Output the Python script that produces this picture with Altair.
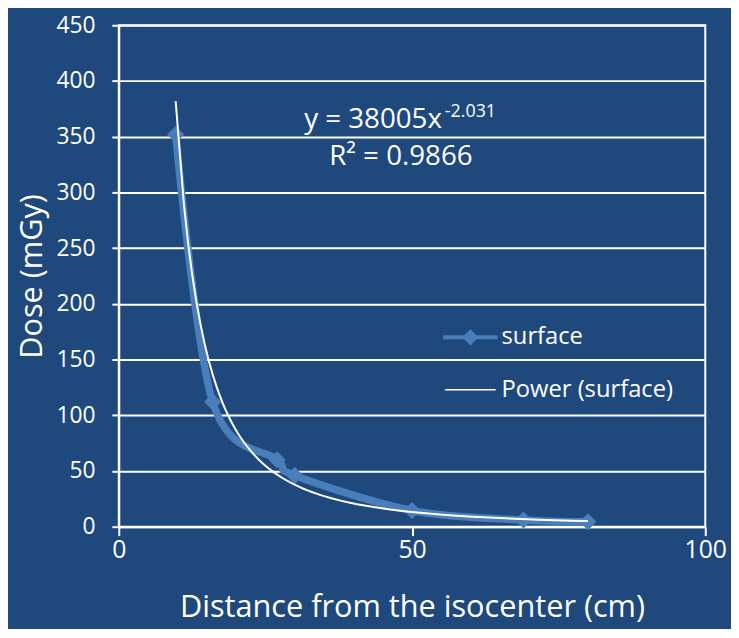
import altair as alt
import pandas as pd

# ---- data ----
distance = [9.7, 16.0, 27.0, 30.0, 50.0, 69.0, 80.0]
dose = [352, 112, 60, 46, 14.5, 6.0, 4.4]
series_labels = ["surface", "Power (surface)"]
x_ticks = [0, 50, 100]
y_ticks = [0, 50, 100, 150, 200, 250, 300, 350, 400, 450]

eq_main = ["y = 38005x"]
eq_main_pos = [(55.1, 357.4)]
eq_exp = ["-2.031"]
eq_exp_pos = [(55.6, 367.6)]
r2_text = ["R² = 0.9866"]
r2_pos = [(48.1, 325.0)]

BG = "#1F497D"
BLUE = "#4A7EBB"
WHITE = "#FFFFFF"
FONT = "Open Sans"

df = pd.DataFrame({"distance": distance, "dose": dose})
legend_df = pd.DataFrame({"series": series_labels})

xs = alt.Scale(domain=[0, 100], nice=False, zero=True)
ys = alt.Scale(domain=[0, 450], nice=False)

x_enc = alt.X(
    "distance:Q",
    scale=xs,
    axis=alt.Axis(
        values=x_ticks,
        title="Distance from the isocenter (cm)",
        grid=False,
        tickSize=9,
        labelPadding=2,
        labelFlush=False,
        labelFontSize=25,
        titleFontSize=31,
        titlePadding=31,
        titleFontWeight="normal",
    ),
)
y_enc = alt.Y(
    "dose:Q",
    scale=ys,
    axis=alt.Axis(
        values=y_ticks,
        title="Dose (mGy)",
        grid=True,
        tickSize=7,
        labelPadding=17,
        labelFlush=False,
        labelFontSize=23,
        titleFontSize=31,
        titlePadding=8,
        titleFontWeight="normal",
    ),
)

base = alt.Chart(df)

data_line = base.mark_line(
    color=BLUE, strokeWidth=7.5, interpolate="cardinal"
).encode(x=x_enc, y=y_enc)

data_points = base.mark_point(
    shape="diamond", filled=True, size=300, color=BLUE, opacity=1
).encode(x="distance:Q", y="dose:Q")

trend = (
    base.transform_regression("distance", "dose", method="pow")
    .mark_line(color=WHITE, strokeWidth=2)
    .encode(x="distance:Q", y="dose:Q")
)

surface_symbol = "M-1,-0.075H1V0.075H-1Z M-0.3,0L0,-0.3L0.3,0L0,0.3Z"
power_symbol = "M-0.93,-0.025H0.93V0.025H-0.93Z"

legend_opts = dict(
    title=None,
    orient="none",
    legendX=328,
    legendY=288,
    symbolSize=3025,
    rowPadding=13,
    labelOffset=4,
    labelFontSize=24,
    labelLimit=400,
    labelColor=WHITE,
    labelFont=FONT,
    symbolStrokeWidth=0,
    symbolOpacity=1,
)

legend_layer = alt.Chart(legend_df).mark_point(
    filled=True, size=3025, opacity=1, clip=True, strokeWidth=0
).encode(
    x=alt.value(-2000),
    y=alt.value(-2000),
    color=alt.Color(
        "series:N",
        scale=alt.Scale(domain=series_labels, range=[BLUE, WHITE]),
        legend=alt.Legend(**legend_opts),
    ),
    shape=alt.Shape(
        "series:N",
        scale=alt.Scale(domain=series_labels, range=[surface_symbol, power_symbol]),
        legend=alt.Legend(**legend_opts),
    ),
)

main_df = pd.DataFrame({"t": eq_main, "x": [p[0] for p in eq_main_pos], "y": [p[1] for p in eq_main_pos]})
exp_df = pd.DataFrame({"t": eq_exp, "x": [p[0] for p in eq_exp_pos], "y": [p[1] for p in eq_exp_pos]})
r2_df = pd.DataFrame({"t": r2_text, "x": [p[0] for p in r2_pos], "y": [p[1] for p in r2_pos]})

eq_main_layer = alt.Chart(main_df).mark_text(
    align="right", baseline="alphabetic", fontSize=28, color=WHITE, font=FONT
).encode(x="x:Q", y="y:Q", text="t:N")
eq_exp_layer = alt.Chart(exp_df).mark_text(
    align="left", baseline="alphabetic", fontSize=18, color=WHITE, font=FONT
).encode(x="x:Q", y="y:Q", text="t:N")
r2_layer = alt.Chart(r2_df).mark_text(
    align="center", baseline="alphabetic", fontSize=28, color=WHITE, font=FONT
).encode(x="x:Q", y="y:Q", text="t:N")

chart = (
    alt.layer(
        data_line, data_points, trend, legend_layer, eq_main_layer, eq_exp_layer, r2_layer
    )
    .properties(
        width=593,
        height=507,
        background=BG,
        padding={"left": 112, "top": 14, "right": 26, "bottom": 100},
        autosize=alt.AutoSizeParams(type="none"),
    )
    .configure_view(stroke=WHITE, strokeWidth=2, fill=BG)
    .configure_axis(
        labelColor=WHITE,
        titleColor=WHITE,
        domainColor=WHITE,
        domainWidth=2,
        tickColor=WHITE,
        tickWidth=2,
        gridColor=WHITE,
        gridWidth=2,
        gridOpacity=1,
        labelFont=FONT,
        titleFont=FONT,
    )
)

chart.save("out.html", embed_options={"renderer": "svg", "actions": False})
